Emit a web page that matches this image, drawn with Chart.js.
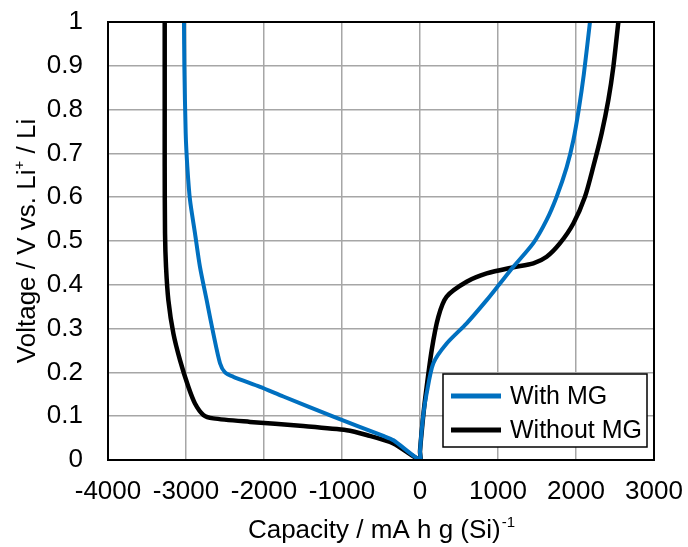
<!DOCTYPE html>
<html>
<head>
<meta charset="utf-8">
<script src="https://cdn.jsdelivr.net/npm/chart.js@4.4.1/dist/chart.umd.min.js"></script>
<style>
  html, body { margin: 0; padding: 0; background: #fff; }
  #wrap { width: 688px; height: 547px; }
</style>
</head>
<body>
<div id="wrap"><canvas id="chart" width="688" height="547"></canvas></div>
<script>
// --- datos ---
// Descarga (capacidad negativa), desde 0 V hacia 1 V
const withMgDisCap = [0, -340, -470, -1111, -1752, -2051, -2393, -2500, -2564, -2650, -2735, -2821, -2885, -2949, -2983, -3004, -3021, -3026];
const withMgDisV   = [0, 0.045, 0.055, 0.099, 0.145, 0.167, 0.190, 0.200, 0.221, 0.289, 0.365, 0.441, 0.518, 0.594, 0.670, 0.746, 0.898, 1.0];
const withoutMgDisCap = [0, -342, -684, -940, -1538, -2179, -2650, -2778, -2885, -2970, -3077, -3162, -3226, -3256, -3269, -3273, -3273, -3273];
const withoutMgDisV   = [0, 0.038, 0.057, 0.068, 0.078, 0.087, 0.095, 0.103, 0.129, 0.167, 0.228, 0.289, 0.365, 0.441, 0.518, 0.670, 0.820, 1.0];

// Carga (capacidad positiva)
const withMgChCap = [0, 40, 85, 171, 342, 598, 855, 1026, 1197, 1453, 1624, 1752, 1880, 1966, 2035, 2100, 2179];
const withMgChV   = [0.02, 0.10, 0.152, 0.221, 0.266, 0.312, 0.365, 0.403, 0.441, 0.495, 0.548, 0.601, 0.668, 0.730, 0.800, 0.880, 1.0];
const withoutMgChCap = [0, 30, 64, 150, 235, 342, 598, 855, 1197, 1453, 1624, 1795, 1966, 2115, 2222, 2329, 2415, 2479, 2543];
const withoutMgChV   = [0.02, 0.08, 0.137, 0.251, 0.327, 0.373, 0.407, 0.426, 0.440, 0.449, 0.464, 0.495, 0.540, 0.601, 0.670, 0.746, 0.822, 0.898, 1.0];

const seriesLabels = ['With MG', 'Without MG'];
const seriesColors = ['#0070C0', '#000000'];

// eje X: -4000 .. 3000, eje Y: 0 .. 1
const xTicks = [-4000, -3000, -2000, -1000, 0, 1000, 2000, 3000];
const yTicks = [0, 0.1, 0.2, 0.3, 0.4, 0.5, 0.6, 0.7, 0.8, 0.9, 1];

const FONT = "'Liberation Sans', Arial, sans-serif";

function toPoints(disCap, disV, chCap, chV) {
    const pts = [];
    for (let i = disCap.length - 1; i >= 0; i--) pts.push({ x: disCap[i], y: disV[i] });
    for (let i = 0; i < chCap.length; i++) pts.push({ x: chCap[i], y: chV[i] });
    return pts;
}

// Marco, leyenda y títulos de ejes (con superíndices)
const decoPlugin = {
    id: 'deco',
    afterDraw(chart) {
        const ctx = chart.ctx;
        const a = chart.chartArea;
        ctx.save();
        ctx.strokeStyle = '#000';
        ctx.lineWidth = 2;
        ctx.strokeRect(a.left, a.top, a.right - a.left, a.bottom - a.top);

        // leyenda
        const lx = 443, ly = 374, lw = 204, lh = 73;
        ctx.fillStyle = '#fff';
        ctx.fillRect(lx, ly, lw, lh);
        ctx.strokeStyle = '#000';
        ctx.lineWidth = 1.5;
        ctx.strokeRect(lx, ly, lw, lh);
        ctx.font = '25px ' + FONT;
        ctx.textBaseline = 'middle';
        ctx.textAlign = 'left';
        const rows = [396, 430];
        chart.data.datasets.forEach((ds, i) => {
            ctx.strokeStyle = ds.borderColor;
            ctx.lineWidth = 5;
            ctx.beginPath();
            ctx.moveTo(451, rows[i]);
            ctx.lineTo(501, rows[i]);
            ctx.stroke();
            ctx.fillStyle = '#000';
            ctx.fillText(ds.label, 510, rows[i] + 1);
        });

        // título eje X
        ctx.fillStyle = '#000';
        ctx.textBaseline = 'alphabetic';
        const xMain = 'Capacity / mA h g (Si)';
        const xSup = '-1';
        ctx.font = '26px ' + FONT;
        const wMain = ctx.measureText(xMain).width;
        ctx.font = '15px ' + FONT;
        const wSup = ctx.measureText(xSup).width;
        const cx = (a.left + a.right) / 2;
        const x0 = cx - (wMain + wSup) / 2;
        ctx.font = '26px ' + FONT;
        ctx.fillText(xMain, x0, 538);
        ctx.font = '15px ' + FONT;
        ctx.fillText(xSup, x0 + wMain + 1, 527);

        // título eje Y (rotado)
        ctx.translate(35, (a.top + a.bottom) / 2);
        ctx.rotate(-Math.PI / 2);
        const p1 = 'Voltage / V vs. Li';
        const p2 = '+';
        const p3 = ' / Li';
        ctx.font = '26px ' + FONT;
        const w1 = ctx.measureText(p1).width;
        const w3 = ctx.measureText(p3).width;
        ctx.font = '15px ' + FONT;
        const w2 = ctx.measureText(p2).width;
        const sx = -(w1 + w2 + w3) / 2;
        ctx.font = '26px ' + FONT;
        ctx.fillText(p1, sx, 0);
        ctx.font = '15px ' + FONT;
        ctx.fillText(p2, sx + w1, -11);
        ctx.font = '26px ' + FONT;
        ctx.fillText(p3, sx + w1 + w2, 0);
        ctx.restore();
    }
};

new Chart(document.getElementById('chart').getContext('2d'), {
    type: 'scatter',
    data: {
        datasets: [
            {
                label: seriesLabels[0],
                data: toPoints(withMgDisCap, withMgDisV, withMgChCap, withMgChV),
                borderColor: seriesColors[0],
                backgroundColor: seriesColors[0],
                borderWidth: 4,
                showLine: true,
                pointRadius: 0,
                tension: 0.25
            },
            {
                label: seriesLabels[1],
                data: toPoints(withoutMgDisCap, withoutMgDisV, withoutMgChCap, withoutMgChV),
                borderColor: seriesColors[1],
                backgroundColor: seriesColors[1],
                borderWidth: 4.5,
                showLine: true,
                pointRadius: 0,
                tension: 0.25
            }
        ]
    },
    options: {
        responsive: false,
        animation: false,
        layout: { padding: { top: 22, right: 34, left: 0, bottom: 0 } },
        plugins: {
            legend: { display: false },
            tooltip: { enabled: false }
        },
        scales: {
            x: {
                type: 'linear',
                min: -4000,
                max: 3000,
                afterBuildTicks: s => { s.ticks = xTicks.map(v => ({ value: v })); },
                // alto fijo y sin relleno extra por las etiquetas de los extremos
                afterFit: s => { s.height = 87; s.paddingLeft = 0; s.paddingRight = 0; },
                grid: { color: '#a6a6a6', lineWidth: 1.5, drawTicks: false },
                border: { display: false },
                ticks: {
                    color: '#000',
                    padding: 16,
                    maxRotation: 0,
                    autoSkip: false,
                    font: { size: 26, family: FONT },
                    callback: v => String(v)
                }
            },
            y: {
                type: 'linear',
                min: 0,
                max: 1,
                afterBuildTicks: s => { s.ticks = yTicks.map(v => ({ value: v })); },
                afterFit: s => { s.width = 108; s.paddingTop = 0; s.paddingBottom = 0; },
                grid: { color: '#a6a6a6', lineWidth: 1.5, drawTicks: false },
                border: { display: false },
                ticks: {
                    color: '#000',
                    padding: 25,
                    autoSkip: false,
                    font: { size: 26, family: FONT },
                    callback: v => String(v)
                }
            }
        }
    },
    plugins: [decoPlugin]
});
</script>
</body>
</html>
